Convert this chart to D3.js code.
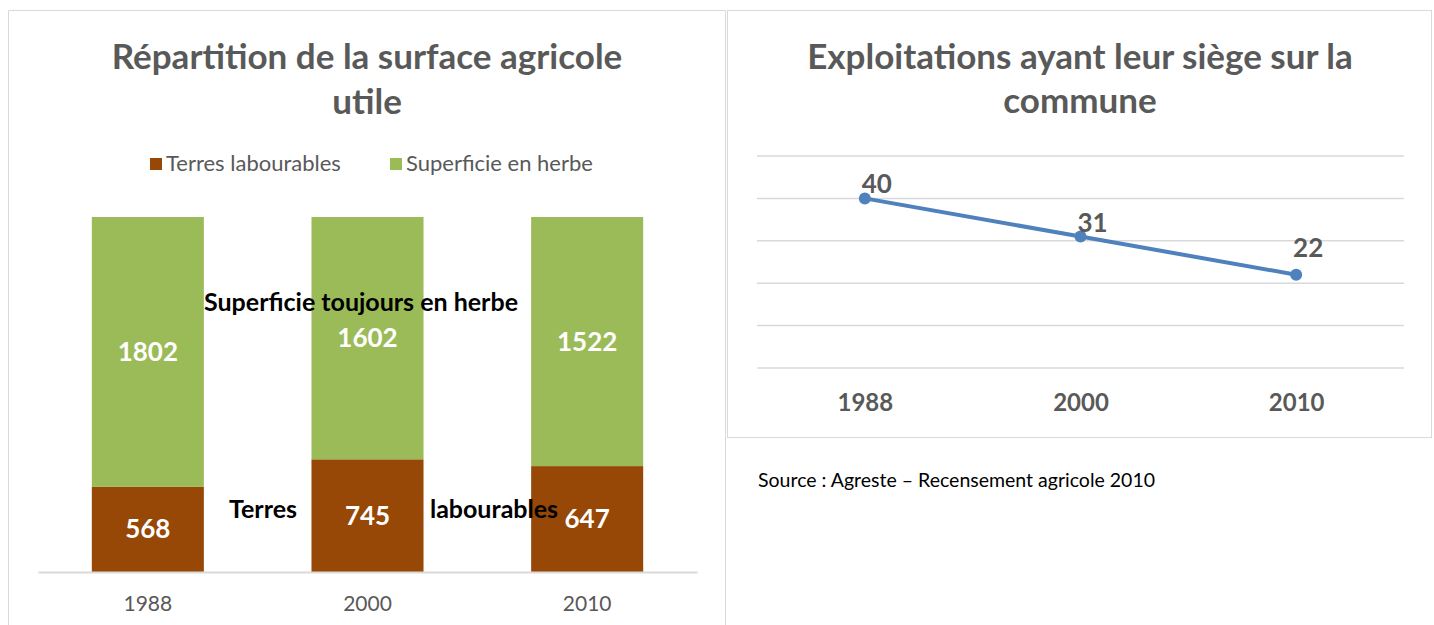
<!DOCTYPE html>
<html>
<head>
<meta charset="utf-8">
<script src="https://cdn.jsdelivr.net/npm/d3@7"></script>
<style>
  body { margin: 0; background: #fff; }
  text { font-family: Lato, "Open Sans", sans-serif; }
</style>
</head>
<body>
<div class="graph"></div>
<script>
// data
const years = ["1988", "2000", "2010"];
const terresLabourables = [568, 745, 647];
const superficieHerbe = [1802, 1602, 1522];
const exploitations = [40, 31, 22];
const gridTicks = [0, 10, 20, 30, 40, 50];

const grey = '#595959';
const brown = '#974706';
const green = '#9bbb59';
const blue = '#4f81bd';

const svg = d3.select('.graph').append('svg')
    .attr('width', 1434).attr('height', 625);

// panel frames
svg.append('path')
    .attr('d', 'M8.5,625 V10.5 H725.5 V625')
    .attr('fill', 'none').attr('stroke', '#d9d9d9');
svg.append('rect')
    .attr('x', 727.5).attr('y', 10.5).attr('width', 704).attr('height', 427)
    .attr('fill', 'none').attr('stroke', '#d9d9d9');

// ---------- left : 100% stacked bars ----------
const left = svg.append('g');
left.selectAll('text.title')
    .data(['Répartition de la surface agricole', 'utile'])
    .enter().append('text')
    .attr('x', 367).attr('y', (d, i) => 69 + i * 45)
    .attr('text-anchor', 'middle')
    .attr('font-size', 35).attr('font-weight', 'bold').attr('fill', grey)
    .text(d => d);

// legend
const legend = [
    { name: 'Terres labourables', color: brown, x: 150 },
    { name: 'Superficie en herbe', color: green, x: 390 }
];
const lg = left.selectAll('g.lg').data(legend).enter().append('g')
    .attr('transform', d => `translate(${d.x},158)`);
lg.append('rect').attr('width', 12).attr('height', 12).attr('fill', d => d.color);
lg.append('text').attr('x', 16).attr('y', 13)
    .attr('font-size', 22).attr('fill', grey).text(d => d.name);

const rows = years.map((y, i) => ({ year: y, terres: terresLabourables[i], herbe: superficieHerbe[i] }));
const stack = d3.stack().keys(['terres', 'herbe']).offset(d3.stackOffsetExpand);
const series = stack(rows);

const xb = d3.scaleBand().domain(years).range([38, 697])
    .paddingInner(0.49).paddingOuter(0.245);
const yb = d3.scaleLinear().domain([0, 1]).range([572, 217]);
const colors = { terres: brown, herbe: green };

const layers = left.selectAll('g.layer').data(series).enter().append('g')
    .attr('fill', d => colors[d.key]);
layers.selectAll('rect').data(d => d.map(p => Object.assign(p, { key: d.key })))
    .enter().append('rect')
    .attr('x', d => xb(d.data.year))
    .attr('width', xb.bandwidth())
    .attr('y', d => yb(d[1]))
    .attr('height', d => yb(d[0]) - yb(d[1]));
layers.selectAll('text').data(d => d)
    .enter().append('text')
    .attr('x', d => xb(d.data.year) + xb.bandwidth() / 2)
    .attr('y', d => (yb(d[0]) + yb(d[1])) / 2 + 9)
    .attr('text-anchor', 'middle')
    .attr('font-size', 26).attr('font-weight', 'bold').attr('fill', '#fff')
    .text(d => d.data[d.key]);

// x axis
const xAxis = left.append('g').attr('transform', 'translate(0,572)')
    .call(d3.axisBottom(xb).tickSize(0).tickPadding(24));
xAxis.select('.domain').attr('stroke', '#d9d9d9').attr('stroke-width', 2);
xAxis.selectAll('text').attr('font-size', 21).attr('fill', grey)
    .attr('font-family', 'Lato, sans-serif');

// free text boxes laid over the chart
const notes = [
    { t: 'Superficie toujours en herbe', x: 361, y: 311 },
    { t: 'Terres', x: 263, y: 518 },
    { t: 'labourables', x: 494, y: 518 }
];
left.selectAll('text.note').data(notes).enter().append('text')
    .attr('x', d => d.x).attr('y', d => d.y).attr('text-anchor', 'middle')
    .attr('font-size', 25).attr('font-weight', 'bold').attr('fill', '#000')
    .text(d => d.t);

// ---------- right : line ----------
const right = svg.append('g');
right.selectAll('text.title')
    .data(['Exploitations ayant leur siège sur la', 'commune'])
    .enter().append('text')
    .attr('x', 1080).attr('y', (d, i) => 69 + i * 44)
    .attr('text-anchor', 'middle')
    .attr('font-size', 35).attr('font-weight', 'bold').attr('fill', grey)
    .text(d => d);

const xp = d3.scalePoint().domain(years).range([757, 1404]).padding(0.5);
const yp = d3.scaleLinear().domain([0, 50]).range([368, 156]);

right.selectAll('line.grid').data(gridTicks).enter().append('line')
    .attr('x1', 757).attr('x2', 1404)
    .attr('y1', d => yp(d)).attr('y2', d => yp(d))
    .attr('stroke', '#d9d9d9').attr('stroke-width', 1.5);

const pts = years.map((y, i) => ({ year: y, v: exploitations[i] }));
right.append('path').datum(pts)
    .attr('fill', 'none').attr('stroke', blue).attr('stroke-width', 4)
    .attr('d', d3.line().x(d => xp(d.year)).y(d => yp(d.v)));
right.selectAll('circle').data(pts).enter().append('circle')
    .attr('cx', d => xp(d.year)).attr('cy', d => yp(d.v)).attr('r', 6)
    .attr('fill', blue);
right.selectAll('text.val').data(pts).enter().append('text')
    .attr('x', d => xp(d.year) + 12)
    .attr('y', (d, i) => yp(d.v) - (i === 2 ? 18 : 5))
    .attr('text-anchor', 'middle')
    .attr('font-size', 26).attr('font-weight', 'bold').attr('fill', grey)
    .text(d => d.v);

const xAxis2 = right.append('g').attr('transform', 'translate(0,368)')
    .call(d3.axisBottom(xp).tickSize(0).tickPadding(26));
xAxis2.select('.domain').remove();
xAxis2.selectAll('text').attr('font-size', 24).attr('font-weight', 'bold')
    .attr('fill', grey).attr('font-family', 'Lato, sans-serif');

svg.append('text').attr('x', 758).attr('y', 487)
    .attr('font-size', 19.5).attr('fill', '#000')
    .text('Source : Agreste – Recensement agricole 2010');
</script>
</body>
</html>
